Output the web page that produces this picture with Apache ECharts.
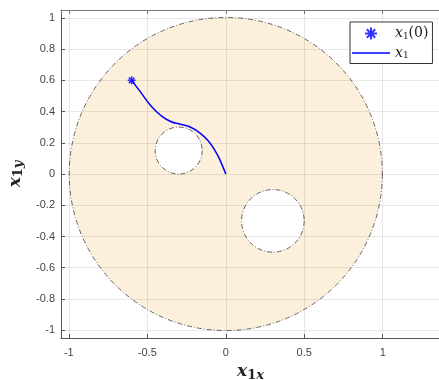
<!DOCTYPE html>
<html>
<head>
<meta charset="utf-8">
<script src="https://cdn.jsdelivr.net/npm/echarts@6/dist/echarts.min.js"></script>
<style>
  html, body { margin: 0; padding: 0; background: #fff; }
  #chart { width: 439px; height: 380px; }
</style>
</head>
<body>
<div id="chart"></div>
<script>
// region: outer disc and the two holes (center x, center y, radius)
var circleCx = [0, -0.3, 0.3];
var circleCy = [0, 0.15, -0.3];
var circleR = [1, 0.15, 0.2];

// trajectory x1 from x1(0) to origin
var trajX = [-0.6, -0.543, -0.479, -0.415, -0.351, -0.288, -0.224, -0.160, -0.107, -0.064, -0.032, 0];
var trajY = [0.6, 0.524, 0.439, 0.376, 0.336, 0.318, 0.299, 0.259, 0.206, 0.142, 0.078, 0];

var startX = [-0.6];
var startY = [0.6];

var xRange = [-1.05, 1.365];
var yRange = [-1.05, 1.05];

var circleData = circleCx.map(function (c, i) { return [c, circleCy[i], circleR[i]]; });
var trajData = trajX.map(function (x, i) { return [x, trajY[i]]; });
var startData = startX.map(function (x, i) { return [x, startY[i]]; });

var chart = echarts.init(document.getElementById('chart'));

var tickFont = { fontFamily: 'Liberation Sans, Arial, sans-serif', fontSize: 11, color: '#444' };
var serif = 'DejaVu Serif, Liberation Serif, serif';

var nameRich = {
  a: { fontFamily: serif, fontStyle: 'italic', fontWeight: 'bold', fontSize: 17, color: '#222' },
  b: { fontFamily: serif, fontWeight: 'bold', fontSize: 13, color: '#222', padding: [7, 0, 0, 0] },
  c: { fontFamily: serif, fontStyle: 'italic', fontWeight: 'bold', fontSize: 13, color: '#222', padding: [7, 0, 0, 0] }
};

chart.setOption({
  animation: false,
  grid: { left: 61, top: 10, right: -1, bottom: 42, show: false, outerBoundsMode: 'none', containLabel: false },
  legend: {
    orient: 'vertical',
    left: 350,
    top: 22,
    itemWidth: 38,
    itemHeight: 12,
    itemGap: 4,
    padding: [3, 4, 3, 2],
    backgroundColor: '#fff',
    borderColor: '#333',
    borderWidth: 1,
    borderRadius: 0,
    data: [
      { name: 'start' },
      { name: 'traj', icon: 'path://M0,0H0.01V0.01H0Z M0,5.3H38V6.7H0Z M37.99,11.99H38V12H37.99Z' }
    ],
    formatter: function (name) {
      return name === 'start' ? '{i|x}{s|1}{n|(0)}' : '{i|x}{s|1}';
    },
    textStyle: {
      rich: {
        i: { fontFamily: serif, fontStyle: 'italic', fontSize: 14, color: '#222' },
        s: { fontFamily: serif, fontSize: 9, color: '#222', padding: [6, 0, 0, 0] },
        n: { fontFamily: serif, fontSize: 14, color: '#222' }
      }
    }
  },
  xAxis: [{
    type: 'value',
    min: xRange[0],
    max: xRange[1],
    splitNumber: 5,
    z: 2,
    name: '{a|x}{b|1}{c|x}',
    nameLocation: 'middle',
    nameGap: 24,
    nameTextStyle: { rich: nameRich },
    axisLine: { show: true, onZero: false, lineStyle: { color: '#555', width: 1 } },
    axisTick: { show: true, inside: true, length: 4, lineStyle: { color: '#555' } },
    axisLabel: Object.assign({ margin: 9, showMinLabel: false, showMaxLabel: false }, tickFont),
    splitLine: { show: true, lineStyle: { color: 'rgba(0,0,0,0.09)', width: 1 } }
  }, {
    type: 'value',
    position: 'top',
    min: xRange[0],
    max: xRange[1],
    splitNumber: 5,
    z: 2,
    axisLine: { show: true, onZero: false, lineStyle: { color: '#777', width: 1 } },
    axisTick: { show: true, inside: true, length: 4, lineStyle: { color: '#777' } },
    axisLabel: { show: false },
    splitLine: { show: false }
  }],
  yAxis: {
    type: 'value',
    min: yRange[0],
    max: yRange[1],
    splitNumber: 10,
    z: 2,
    name: '{a|x}{b|1}{c|y}',
    nameLocation: 'middle',
    nameRotate: 90,
    nameGap: 35,
    nameTextStyle: { rich: nameRich },
    axisLine: { show: true, onZero: false, lineStyle: { color: '#555', width: 1 } },
    axisTick: { show: true, inside: true, length: 4, lineStyle: { color: '#555' } },
    axisLabel: Object.assign({ margin: 6, showMinLabel: false, showMaxLabel: false }, tickFont),
    splitLine: { show: true, lineStyle: { color: 'rgba(0,0,0,0.09)', width: 1 } }
  },
  series: [{
    name: 'region',
    type: 'custom',
    z: 1,
    silent: true,
    data: circleData,
    encode: { x: 0, y: 1 },
    renderItem: function (params, api) {
      var c = api.coord([api.value(0), api.value(1)]);
      var s = api.size([api.value(2), api.value(2)]);
      var r = (s[0] + s[1]) / 2;
      return {
        type: 'circle',
        shape: { cx: c[0], cy: c[1], r: r },
        style: {
          fill: params.dataIndex === 0 ? '#fcf0dc' : '#ffffff',
          stroke: '#555',
          lineWidth: 0.9,
          lineDash: [5, 2, 1, 2]
        }
      };
    }
  }, {
    name: 'traj',
    type: 'line',
    z: 3,
    data: trajData,
    smooth: 0.5,
    showSymbol: false,
    symbol: 'none',
    lineStyle: { color: '#0000ff', width: 1.5 },
    itemStyle: { color: '#0000ff' }
  }, {
    name: 'start',
    type: 'scatter',
    z: 4,
    data: startData,
    symbol: 'path://M5,0L5,10M0,5L10,5M1.5,1.5L8.5,8.5M8.5,1.5L1.5,8.5',
    symbolSize: 8,
    itemStyle: { color: 'none', borderColor: '#0000ff', borderWidth: 1.6 }
  }]
});
</script>
</body>
</html>
